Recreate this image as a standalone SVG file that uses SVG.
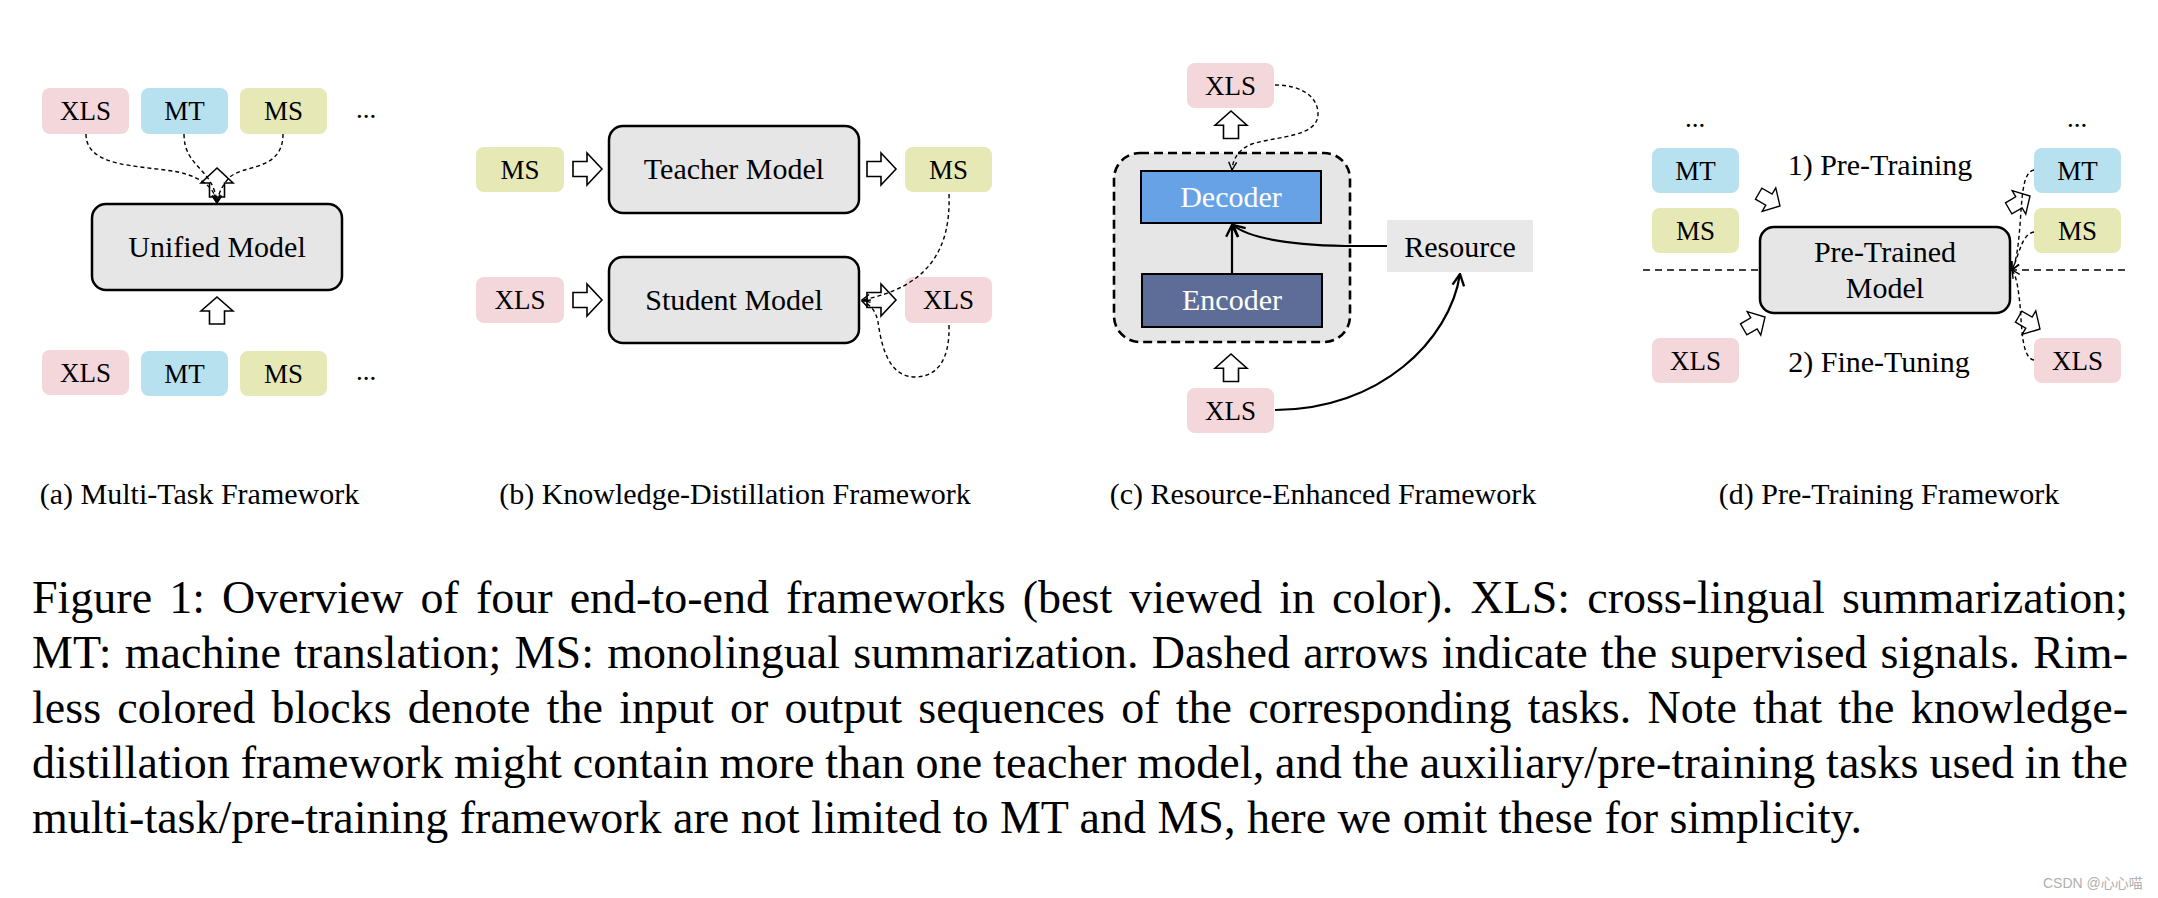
<svg xmlns="http://www.w3.org/2000/svg" xmlns:xlink="http://www.w3.org/1999/xlink" width="2158" height="898" viewBox="0 0 2158 898">
<style>
text{font-family:"Liberation Serif","Times New Roman",serif;fill:#000}
.lbl{font-size:27px;text-anchor:middle}
.mdl{font-size:30px;text-anchor:middle}
.cap{font-size:30px;text-anchor:middle}
.par{font-size:46px}
.xls{fill:#f4d7da}
.mt{fill:#b8e1ef}
.ms{fill:#e6e8b6}
.box{fill:#e6e6e6;stroke:#000;stroke-width:2.5}
.ha{fill:#fff;stroke:#000;stroke-width:1.6;stroke-linejoin:miter}
.dash{fill:none;stroke:#000;stroke-width:1.4;stroke-dasharray:4 3}
.solid{fill:none;stroke:#000;stroke-width:2.2}
.wt{fill:#fff}
</style>
<defs>
<path id="harrow" class="ha" d="M0,0 L16,15 L7.5,15 L7.5,29 L-7.5,29 L-7.5,15 L-16,15 Z"/>
<marker id="vd" viewBox="0 0 10 10" refX="9" refY="5" markerWidth="10" markerHeight="10" markerUnits="userSpaceOnUse" orient="auto">
<path d="M1,1 L9,5 L1,9" fill="none" stroke="#000" stroke-width="1.4"/>
</marker>
<marker id="vs" viewBox="0 0 12 12" refX="11" refY="6" markerWidth="14" markerHeight="14" markerUnits="userSpaceOnUse" orient="auto">
<path d="M1,1 L11,6 L1,11" fill="none" stroke="#000" stroke-width="2"/>
</marker>
</defs>
<rect width="2158" height="898" fill="#fff"/>

<!-- (a) Multi-Task -->
<g id="a-xls-top"><rect class="xls" x="42" y="88" width="87" height="46" rx="8"/><text class="lbl" x="85.5" y="120">XLS</text></g>
<g id="a-mt-top"><rect class="mt" x="141" y="88" width="87" height="46" rx="8"/><text class="lbl" x="184.5" y="120">MT</text></g>
<g id="a-ms-top"><rect class="ms" x="240" y="88" width="87" height="46" rx="8"/><text class="lbl" x="283.5" y="120">MS</text></g>
<g id="a-dots-top"><text class="lbl" x="366" y="118">...</text></g>
<g id="a-unified"><rect class="box" x="92" y="204" width="250" height="86" rx="14"/><text class="mdl" x="217" y="257">Unified Model</text></g>
<g id="a-xls-bot"><rect class="xls" x="42" y="350" width="87" height="45" rx="8"/><text class="lbl" x="85.5" y="382">XLS</text></g>
<g id="a-mt-bot"><rect class="mt" x="141" y="351" width="87" height="45" rx="8"/><text class="lbl" x="184.5" y="383">MT</text></g>
<g id="a-ms-bot"><rect class="ms" x="240" y="351" width="87" height="45" rx="8"/><text class="lbl" x="283.5" y="383">MS</text></g>
<g id="a-dots-bot"><text class="lbl" x="366" y="380">...</text></g>

<!-- (b) Knowledge Distillation -->
<g id="b-ms-in"><rect class="ms" x="476" y="147" width="88" height="45" rx="8"/><text class="lbl" x="520" y="179">MS</text></g>
<g id="b-teacher"><rect class="box" x="609" y="126" width="250" height="87" rx="14"/><text class="mdl" x="734" y="179">Teacher Model</text></g>
<g id="b-ms-out"><rect class="ms" x="905" y="147" width="87" height="45" rx="8"/><text class="lbl" x="948.5" y="179">MS</text></g>
<g id="b-xls-in"><rect class="xls" x="476" y="277" width="88" height="46" rx="8"/><text class="lbl" x="520" y="309">XLS</text></g>
<g id="b-student"><rect class="box" x="609" y="257" width="250" height="86" rx="14"/><text class="mdl" x="734" y="310">Student Model</text></g>
<g id="b-xls-out"><rect class="xls" x="905" y="277" width="87" height="46" rx="8"/><text class="lbl" x="948.5" y="309">XLS</text></g>

<!-- (c) Resource-Enhanced -->
<g id="c-xls-top"><rect class="xls" x="1187" y="63" width="87" height="45" rx="8"/><text class="lbl" x="1230.5" y="95">XLS</text></g>
<g id="c-model"><rect x="1114" y="153" width="236" height="189" rx="26" fill="#e6e6e6" stroke="#000" stroke-width="2.6" stroke-dasharray="9 5"/></g>
<g id="c-decoder"><rect x="1141" y="171" width="180" height="52" fill="#68a2e6" stroke="#000" stroke-width="2"/><text class="mdl wt" x="1231" y="207">Decoder</text></g>
<g id="c-encoder"><rect x="1142" y="274" width="180" height="53" fill="#5e6d98" stroke="#000" stroke-width="2"/><text class="mdl wt" x="1232" y="310">Encoder</text></g>
<g id="c-resource"><rect x="1387" y="220" width="146" height="52" fill="#e8e8e8"/><text class="mdl" x="1460" y="257">Resource</text></g>
<g id="c-xls-bot"><rect class="xls" x="1187" y="388" width="87" height="45" rx="8"/><text class="lbl" x="1230.5" y="420">XLS</text></g>

<!-- (d) Pre-Training -->
<g id="d-dots-l"><text class="lbl" x="1695" y="127">...</text></g>
<g id="d-mt-l"><rect class="mt" x="1652" y="148" width="87" height="45" rx="8"/><text class="lbl" x="1695.5" y="180">MT</text></g>
<g id="d-ms-l"><rect class="ms" x="1652" y="208" width="87" height="45" rx="8"/><text class="lbl" x="1695.5" y="240">MS</text></g>
<g id="d-xls-l"><rect class="xls" x="1652" y="338" width="87" height="45" rx="8"/><text class="lbl" x="1695.5" y="370">XLS</text></g>
<g id="d-pt-label"><text class="mdl" x="1880" y="175">1) Pre-Training</text></g>
<g id="d-ft-label"><text class="mdl" x="1879" y="372">2) Fine-Tuning</text></g>
<g id="d-model"><rect class="box" x="1760" y="227" width="250" height="86" rx="14"/><text class="mdl" x="1885" y="262">Pre-Trained</text><text class="mdl" x="1885" y="298">Model</text></g>
<g id="d-dots-r"><text class="lbl" x="2077" y="127">...</text></g>
<g id="d-mt-r"><rect class="mt" x="2034" y="148" width="87" height="45" rx="8"/><text class="lbl" x="2077.5" y="180">MT</text></g>
<g id="d-ms-r"><rect class="ms" x="2034" y="208" width="87" height="45" rx="8"/><text class="lbl" x="2077.5" y="240">MS</text></g>
<g id="d-xls-r"><rect class="xls" x="2034" y="338" width="87" height="45" rx="8"/><text class="lbl" x="2077.5" y="370">XLS</text></g>

<!-- connectors -->
<g id="connectors">
<!-- (a) -->
<use href="#harrow" transform="translate(217,168)"/>
<use href="#harrow" transform="translate(217,297) scale(1,0.93)"/>
<path class="dash" d="M86,134 C86,168 140,165 178,172 C205,178 215,190 217,203" marker-end="url(#vd)"/>
<path class="dash" d="M184,134 C184,168 214,168 217,203" marker-end="url(#vd)"/>
<path class="dash" d="M283,134 C283,172 242,164 229,178 C221,187 218,195 217,203" marker-end="url(#vd)"/>
<!-- (b) -->
<use href="#harrow" transform="translate(602,169) rotate(90)"/>
<use href="#harrow" transform="translate(896,169) rotate(90)"/>
<use href="#harrow" transform="translate(602,300) rotate(90)"/>
<use href="#harrow" transform="translate(896,300) rotate(90)"/>
<path class="dash" d="M949,194 C951,250 928,287 862,300" marker-end="url(#vd)"/>
<path class="dash" d="M949,325 C950,360 937,377 915,377 C887,377 881,342 878,322 C876,311 870,304 862,301" marker-end="url(#vd)"/>
<!-- (c) -->
<use href="#harrow" transform="translate(1231,111) scale(1,0.95)"/>
<use href="#harrow" transform="translate(1231,354) scale(1,0.95)"/>
<path class="dash" d="M1275,85 C1302,85 1318,97 1318,114 C1318,137 1278,136 1252,144 C1239,149 1233,158 1232,170" marker-end="url(#vd)"/>
<path class="solid" d="M1232,274 L1232,225" marker-end="url(#vs)"/>
<path class="solid" d="M1387,246 L1345,246 C1300,245 1252,241 1233,225" marker-end="url(#vs)"/>
<path class="solid" d="M1275,410 C1380,410 1450,340 1460,274" marker-end="url(#vs)"/>
<!-- (d) -->
<path d="M1643,270 L1760,270 M2010,270 L2127,270" fill="none" stroke="#000" stroke-width="1.6" stroke-dasharray="7 5"/>
<use href="#harrow" transform="translate(1780,206) rotate(120) scale(0.85)"/>
<use href="#harrow" transform="translate(1765,317) rotate(60) scale(0.85)"/>
<use href="#harrow" transform="translate(2030,196) rotate(60) scale(0.85)"/>
<use href="#harrow" transform="translate(2040,329) rotate(120) scale(0.85)"/>
<path class="dash" d="M2034,170 C2022,172 2022,200 2020,225 C2018,250 2016,262 2012,270" marker-end="url(#vd)"/>
<path class="dash" d="M2034,232 C2022,234 2020,252 2012,270" marker-end="url(#vd)"/>
<path class="dash" d="M2034,360 C2022,358 2022,330 2020,305 C2018,285 2016,276 2012,270" marker-end="url(#vd)"/>
</g>

<!-- sub-captions -->
<g id="captions">
<text class="cap" x="199.5" y="504">(a) Multi-Task Framework</text>
<text class="cap" x="735" y="504">(b) Knowledge-Distillation Framework</text>
<text class="cap" x="1323" y="504">(c) Resource-Enhanced Framework</text>
<text class="cap" x="1889" y="504">(d) Pre-Training Framework</text>
</g>

<!-- figure caption -->
<g id="figure-caption">
<text class="par" x="32" y="613" word-spacing="5.6" textLength="2096" lengthAdjust="spacing">Figure 1: Overview of four end-to-end frameworks (best viewed in color). XLS: cross-lingual summarization;</text>
<text class="par" x="32" y="668" word-spacing="1.7" textLength="2096" lengthAdjust="spacing">MT: machine translation; MS: monolingual summarization. Dashed arrows indicate the supervised signals. Rim-</text>
<text class="par" x="32" y="723" word-spacing="4.7" textLength="2096" lengthAdjust="spacing">less colored blocks denote the input or output sequences of the corresponding tasks. Note that the knowledge-</text>
<text class="par" x="32" y="778" word-spacing="-0.8" textLength="2096" lengthAdjust="spacing">distillation framework might contain more than one teacher model, and the auxiliary/pre-training tasks used in the</text>
<text class="par" x="32" y="833" textLength="1830" lengthAdjust="spacing">multi-task/pre-training framework are not limited to MT and MS, here we omit these for simplicity.</text>
</g>
<g id="watermark"><text x="2043" y="888" style="font-family:'Liberation Sans','Noto Sans CJK SC',sans-serif;font-size:14px;fill:#b0b0b0">CSDN @心心喵</text></g>
</svg>
